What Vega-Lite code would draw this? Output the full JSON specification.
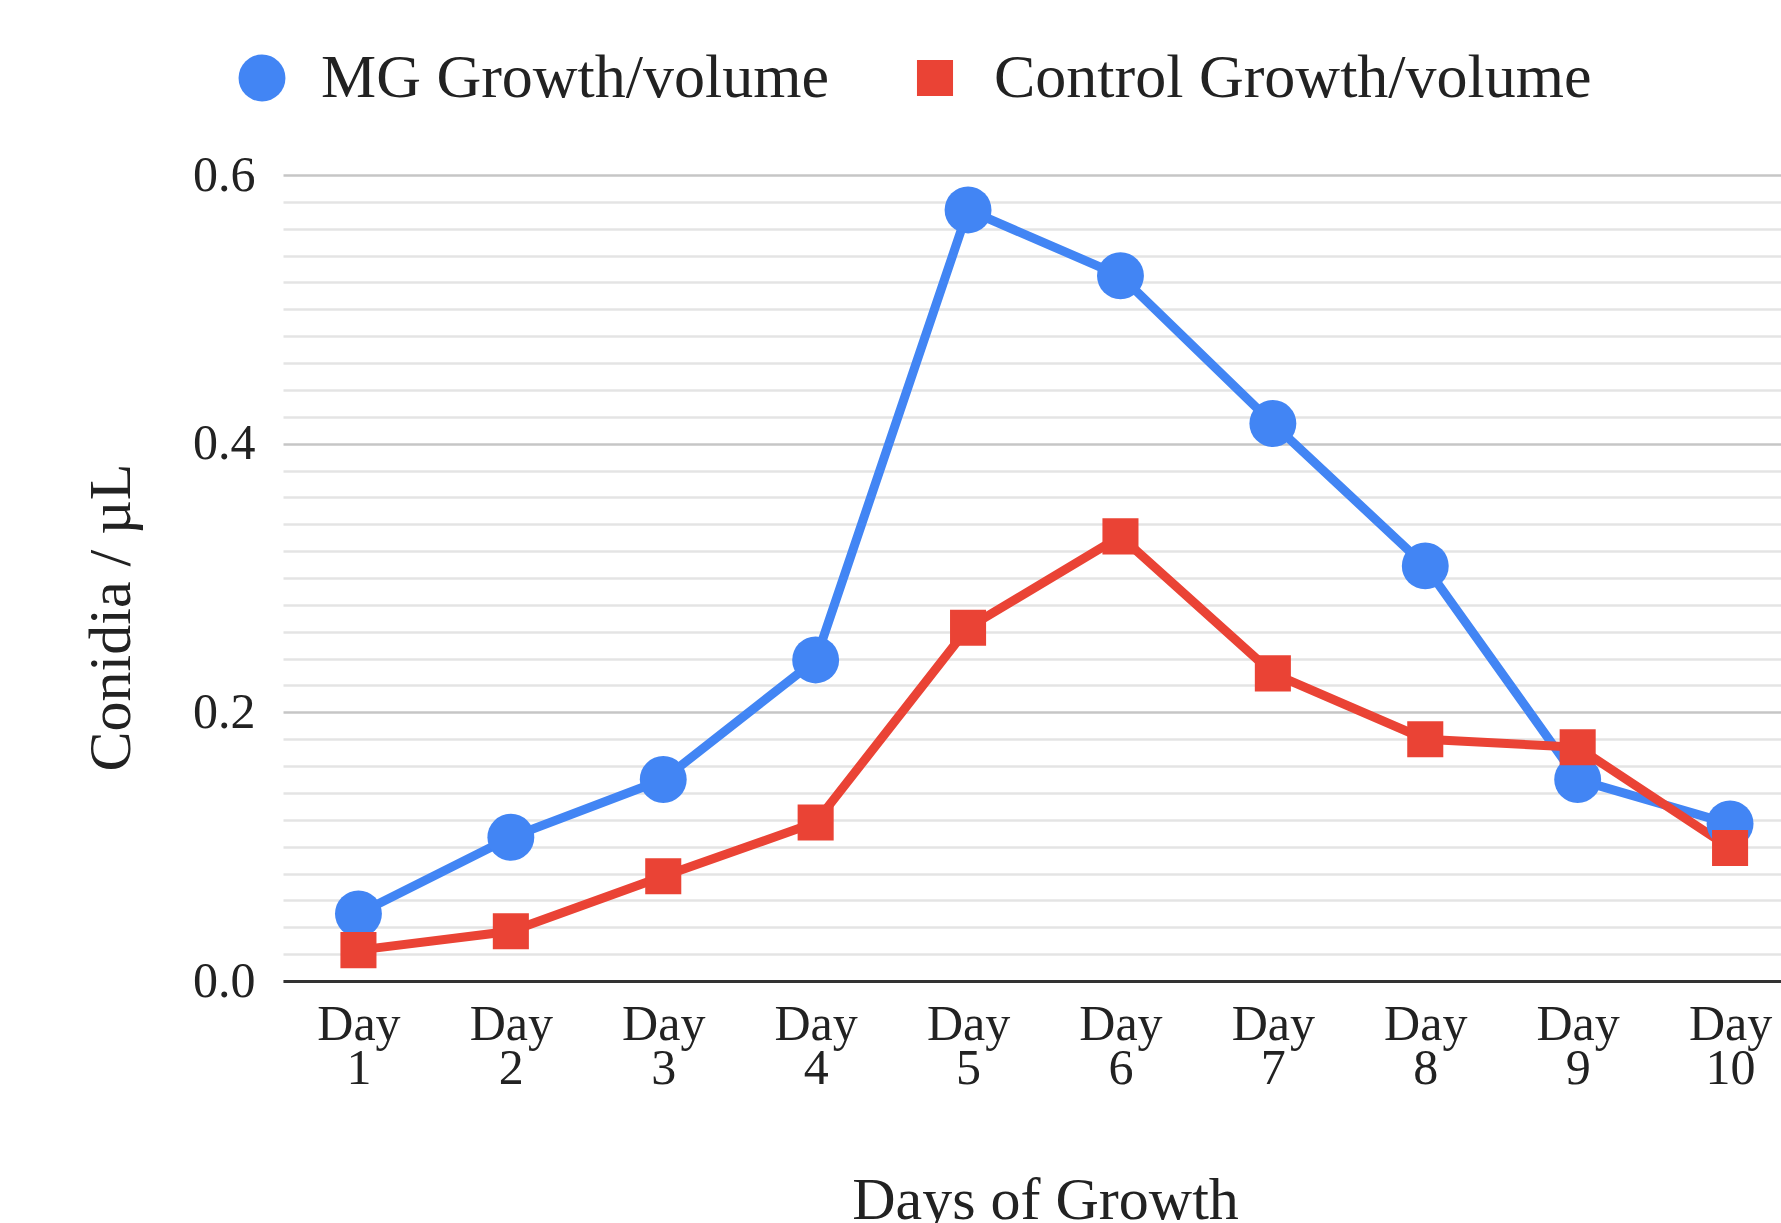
{
  "$schema": "https://vega.github.io/schema/vega-lite/v6.json",
  "autosize": "none",
  "width": 1498,
  "height": 806,
  "padding": {"left": 283, "top": 175, "right": 0, "bottom": 242},
  "background": "white",
  "config": {
    "font": "Liberation Serif",
    "view": {"stroke": null}
  },
  "data": {
    "values": [
      {"day": "Day 1", "series": "MG Growth/volume", "value": 0.050},
      {"day": "Day 2", "series": "MG Growth/volume", "value": 0.107},
      {"day": "Day 3", "series": "MG Growth/volume", "value": 0.150},
      {"day": "Day 4", "series": "MG Growth/volume", "value": 0.239},
      {"day": "Day 5", "series": "MG Growth/volume", "value": 0.574},
      {"day": "Day 6", "series": "MG Growth/volume", "value": 0.525},
      {"day": "Day 7", "series": "MG Growth/volume", "value": 0.415},
      {"day": "Day 8", "series": "MG Growth/volume", "value": 0.309},
      {"day": "Day 9", "series": "MG Growth/volume", "value": 0.150},
      {"day": "Day 10", "series": "MG Growth/volume", "value": 0.117},
      {"day": "Day 1", "series": "Control Growth/volume", "value": 0.023},
      {"day": "Day 2", "series": "Control Growth/volume", "value": 0.037},
      {"day": "Day 3", "series": "Control Growth/volume", "value": 0.078},
      {"day": "Day 4", "series": "Control Growth/volume", "value": 0.118},
      {"day": "Day 5", "series": "Control Growth/volume", "value": 0.263},
      {"day": "Day 6", "series": "Control Growth/volume", "value": 0.331},
      {"day": "Day 7", "series": "Control Growth/volume", "value": 0.229},
      {"day": "Day 8", "series": "Control Growth/volume", "value": 0.180},
      {"day": "Day 9", "series": "Control Growth/volume", "value": 0.174},
      {"day": "Day 10", "series": "Control Growth/volume", "value": 0.099}
    ]
  },
  "encoding": {
    "x": {
      "field": "day",
      "type": "ordinal",
      "sort": null,
      "scale": {"type": "point", "padding": 0.4146, "align": 0.597},
      "axis": {
        "title": "Days of Growth",
        "titleFont": "Liberation Serif",
        "titleFontSize": 60,
        "titleFontWeight": "normal",
        "titleColor": "#222",
        "titleBaseline": "alphabetic",
        "titleY": 237,
        "titleX": 762,
        "labelAngle": 0,
        "labelExpr": "split(datum.label, ' ')",
        "labelFont": "Liberation Serif",
        "labelFontSize": 50,
        "labelLineHeight": 44,
        "labelColor": "#222",
        "labelPadding": 18,
        "ticks": false,
        "grid": false,
        "domain": true,
        "domainColor": "#333",
        "domainWidth": 3
      }
    },
    "y": {
      "field": "value",
      "type": "quantitative",
      "scale": {"domain": [0, 0.6], "nice": false},
      "axis": {
        "title": "Conidia / µL",
        "titleFont": "Liberation Serif",
        "titleFontSize": 60,
        "titleFontWeight": "normal",
        "titleColor": "#222",
        "titleAngle": -90,
        "titleBaseline": "alphabetic",
        "titleAlign": "center",
        "titleX": -154,
        "titleY": 442,
        "values": [0, 0.02, 0.04, 0.06, 0.08, 0.1, 0.12, 0.14, 0.16, 0.18, 0.2, 0.22, 0.24, 0.26, 0.28, 0.3, 0.32, 0.34, 0.36, 0.38, 0.4, 0.42, 0.44, 0.46, 0.48, 0.5, 0.52, 0.54, 0.56, 0.58, 0.6],
        "labelExpr": "abs(datum.value * 5 - round(datum.value * 5)) < 0.001 ? format(datum.value, '.1f') : ''",
        "labelFont": "Liberation Serif",
        "labelFontSize": 50,
        "labelColor": "#222",
        "labelPadding": 28,
        "ticks": false,
        "domain": false,
        "grid": true,
        "gridColor": {"condition": {"test": "abs(datum.value * 5 - round(datum.value * 5)) < 0.001", "value": "#c6c6c6"}, "value": "#e4e4e4"},
        "gridWidth": 2.5
      }
    }
  },
  "resolve": {"legend": {"color": "independent"}},
  "layer": [
    {
      "mark": {"type": "line", "strokeWidth": 9},
      "encoding": {
        "color": {
          "field": "series",
          "type": "nominal",
          "scale": {"domain": ["MG Growth/volume", "Control Growth/volume"], "range": ["#4285f4", "#ea4335"]},
          "legend": null
        }
      }
    },
    {
      "mark": {"type": "point", "filled": true, "opacity": 1},
      "encoding": {
        "color": {
          "field": "series",
          "type": "nominal",
          "scale": {"domain": ["MG Growth/volume", "Control Growth/volume"], "range": ["#4285f4", "#ea4335"]},
          "legend": {
            "title": null,
            "orient": "none",
            "direction": "horizontal",
            "legendX": -52,
            "legendY": -128,
            "labelFont": "Liberation Serif",
            "labelFontSize": 62,
            "labelColor": "#222",
            "labelLimit": 0,
            "labelOffset": 28,
            "columnPadding": 74,
            "symbolOpacity": 1,
            "symbolSize": 2200,
            "encode": {
              "symbols": {
                "update": {
                  "shape": {"signal": "datum.value === 'MG Growth/volume' ? 'circle' : 'square'"},
                  "size": {"signal": "datum.value === 'MG Growth/volume' ? 2200 : 1300"},
                  "opacity": {"value": 1}
                }
              }
            }
          }
        },
        "shape": {
          "field": "series",
          "type": "nominal",
          "scale": {"domain": ["MG Growth/volume", "Control Growth/volume"], "range": ["circle", "square"]},
          "legend": null
        },
        "size": {
          "field": "series",
          "type": "nominal",
          "scale": {"domain": ["MG Growth/volume", "Control Growth/volume"], "range": [2200, 1300]},
          "legend": null
        }
      }
    }
  ]
}
